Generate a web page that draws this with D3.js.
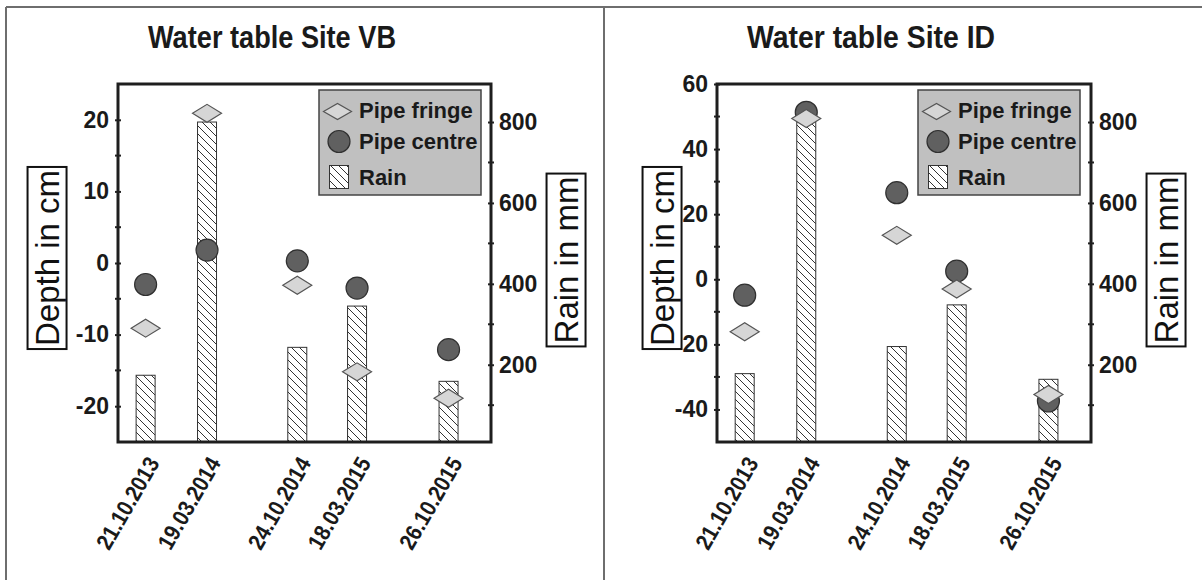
<!DOCTYPE html>
<html>
<head>
<meta charset="utf-8">
<script src="https://cdn.jsdelivr.net/npm/d3@7"></script>
<style>
  html, body { margin: 0; padding: 0; background: #fff; }
  svg { display: block; font-family: "Liberation Sans", Arial, Helvetica, sans-serif; }
</style>
</head>
<body>
<svg id="chart" width="1202" height="580"></svg>
<script>
// Sampling dates (shared by both sites)
const sampleDates = ["2013-10-21", "2014-03-19", "2014-10-24", "2015-03-18", "2015-10-26"];

// Site VB
const vbFringe = [-9.1, 20.9, -3.1, -15.2, -18.9];
const vbCentre = [-3.0, 1.8, 0.3, -3.5, -12.1];
const vbRain = [174, 800, 243, 345, 159];

// Site ID
const idFringe = [-16.1, 49.4, 13.5, -3.0, -35.4];
const idCentre = [-4.9, 51.3, 26.6, 2.5, -37.4];
const idRain = [178, 800, 245, 348, 164];

// Axis ticks
const vbDepthTicks = [-20, -10, 0, 10, 20];
const vbDepthMinor = [-25, -15, -5, 5, 15, 25];
const idDepthTicks = [-40, -20, 0, 20, 40, 60];
const idDepthMinor = [-50, -30, -10, 10, 30, 50];
const rainTicks = [200, 400, 600, 800];
const rainMinor = [100, 300, 500, 700];

const parseDate = d3.timeParse("%Y-%m-%d");
const fmtDate = d3.timeFormat("%d.%m.%Y");
const dates = sampleDates.map(parseDate);

const svg = d3.select("#chart");

// Diagonal hatch for the rain bars
const defs = svg.append("defs");
const pat = defs.append("pattern")
  .attr("id", "hatch")
  .attr("patternUnits", "userSpaceOnUse")
  .attr("width", 8).attr("height", 8);
pat.append("rect").attr("width", 8).attr("height", 8).attr("fill", "#fff");
pat.append("path")
  .attr("d", "M-2,-2L10,10M-2,6L2,10M6,-2L10,2")
  .attr("stroke", "#333").attr("stroke-width", 1);

// Panel frame lines
svg.append("line").attr("x1", 6).attr("x2", 1202).attr("y1", 7).attr("y2", 7)
  .attr("stroke", "#6e6e6e").attr("stroke-width", 2);
svg.append("line").attr("x1", 6).attr("x2", 6).attr("y1", 7).attr("y2", 580)
  .attr("stroke", "#6e6e6e").attr("stroke-width", 2);
svg.append("line").attr("x1", 604).attr("x2", 604).attr("y1", 7).attr("y2", 580)
  .attr("stroke", "#6e6e6e").attr("stroke-width", 2);

function diamondPath(hw, hh) {
  return `M${-hw},0L0,${-hh}L${hw},0L0,${hh}Z`;
}

const TICK_FONT = 23;

function styleTickText(sel, size) {
  sel.attr("font-size", size).attr("font-weight", "bold")
    .attr("fill", "#1a1a1a").attr("font-family", "Liberation Sans, Arial, sans-serif");
}

function drawPanel(cfg) {
  const left = cfg.left, right = cfg.right, top = 84, bottom = 442;
  const g = svg.append("g");

  const x = d3.scaleTime()
    .domain([parseDate("2013-08-15"), parseDate("2016-02-06")])
    .range([left, right]);
  const yDepth = d3.scaleLinear().domain(cfg.depthDomain).range([bottom, top]);
  const yRain = d3.scaleLinear().domain([9, 894]).range([bottom, top]);

  // Title
  g.append("text")
    .attr("x", left + 30).attr("y", 48)
    .attr("font-size", 32).attr("font-weight", "bold")
    .attr("textLength", 248).attr("lengthAdjust", "spacingAndGlyphs")
    .attr("fill", "#1a1a1a")
    .text(cfg.title);

  // Rain bars
  const bw = 19;
  g.selectAll("rect.bar").data(cfg.rain).join("rect")
    .attr("class", "bar")
    .attr("x", (d, i) => x(dates[i]) - bw / 2)
    .attr("width", bw)
    .attr("y", d => yRain(d))
    .attr("height", d => bottom - yRain(d))
    .attr("fill", "url(#hatch)")
    .attr("stroke", "#333").attr("stroke-width", 1);

  // Pipe centre
  g.selectAll("circle.centre").data(cfg.centre).join("circle")
    .attr("class", "centre")
    .attr("cx", (d, i) => x(dates[i]))
    .attr("cy", d => yDepth(d))
    .attr("r", 11)
    .attr("fill", "#606060").attr("stroke", "#303030").attr("stroke-width", 1.2);

  // Pipe fringe
  g.selectAll("path.fringe").data(cfg.fringe).join("path")
    .attr("class", "fringe")
    .attr("transform", (d, i) => `translate(${x(dates[i])},${yDepth(d)})`)
    .attr("d", diamondPath(14.5, 9))
    .attr("fill", "#d6d6d6").attr("stroke", "#555").attr("stroke-width", 1.2);

  // Left depth axis
  const axL = g.append("g").attr("transform", `translate(${left},0)`)
    .call(d3.axisLeft(yDepth).tickValues(cfg.depthTicks).tickSize(3).tickPadding(6)
      .tickFormat(d => String(d)));
  axL.select(".domain").remove();
  axL.selectAll(".tick line").attr("x2", 3).attr("x1", -3).attr("stroke", "#222").attr("stroke-width", 2);
  styleTickText(axL.selectAll(".tick text"), TICK_FONT);
  g.selectAll("line.minL").data(cfg.depthMinor.filter(v => v > cfg.depthDomain[0] && v < cfg.depthDomain[1])).join("line")
    .attr("x1", left - 3).attr("x2", left + 3)
    .attr("y1", d => yDepth(d)).attr("y2", d => yDepth(d))
    .attr("stroke", "#222").attr("stroke-width", 2);

  // Right rain axis
  const axR = g.append("g").attr("transform", `translate(${right},0)`)
    .call(d3.axisRight(yRain).tickValues(rainTicks).tickSize(3).tickPadding(5)
      .tickFormat(d => String(d)));
  axR.select(".domain").remove();
  axR.selectAll(".tick line").attr("x1", -3).attr("x2", 3).attr("stroke", "#222").attr("stroke-width", 2);
  styleTickText(axR.selectAll(".tick text"), TICK_FONT);
  g.selectAll("line.minR").data(rainMinor).join("line")
    .attr("x1", right - 3).attr("x2", right + 3)
    .attr("y1", d => yRain(d)).attr("y2", d => yRain(d))
    .attr("stroke", "#222").attr("stroke-width", 2);

  // Date labels (slightly condensed)
  const axB = g.append("g").attr("transform", `translate(0,${bottom})`)
    .call(d3.axisBottom(x).tickValues(dates).tickSize(0).tickFormat(fmtDate));
  axB.select(".domain").remove();
  styleTickText(axB.selectAll(".tick text"), 23);
  axB.selectAll(".tick text")
    .attr("text-anchor", "end")
    .attr("x", 0).attr("y", 0).attr("dy", 0)
    .attr("textLength", 102).attr("lengthAdjust", "spacingAndGlyphs")
    .attr("transform", "translate(14,21) rotate(-60)");

  // Plot frame
  g.append("rect")
    .attr("x", left).attr("y", top)
    .attr("width", right - left).attr("height", bottom - top)
    .attr("fill", "none").attr("stroke", "#1e1e1e").attr("stroke-width", 3);

  // Legend
  const lg = g.append("g").attr("transform", `translate(${left + 201},90)`);
  lg.append("rect").attr("width", 162).attr("height", 105)
    .attr("fill", "#c0c0c0").attr("stroke", "#444").attr("stroke-width", 1.5);
  lg.append("path").attr("transform", "translate(18.5,21.5)")
    .attr("d", diamondPath(14, 8))
    .attr("fill", "#d6d6d6").attr("stroke", "#555").attr("stroke-width", 1.2);
  lg.append("circle").attr("cx", 20).attr("cy", 51.5).attr("r", 11)
    .attr("fill", "#606060").attr("stroke", "#303030").attr("stroke-width", 1.2);
  lg.append("rect").attr("x", 10.5).attr("y", 75.5).attr("width", 19).attr("height", 23)
    .attr("fill", "url(#hatch)").attr("stroke", "#333").attr("stroke-width", 1);
  const labels = ["Pipe fringe", "Pipe centre", "Rain"];
  const baselines = [28, 59, 95];
  labels.forEach((t, i) => {
    lg.append("text").attr("x", 40).attr("y", baselines[i])
      .attr("font-size", 22).attr("font-weight", "bold").attr("fill", "#1a1a1a")
      .text(t);
  });

  // Boxed axis titles
  function boxedTitle(cx, cy, label) {
    const tg = g.append("g").attr("transform", `translate(${cx},${cy}) rotate(-90)`);
    const t = tg.append("text")
      .attr("text-anchor", "middle").attr("dy", "0.35em")
      .attr("font-size", 33).attr("fill", "#111")
      .text(label);
    const bb = t.node().getBBox();
    tg.insert("rect", "text")
      .attr("x", bb.x - 3).attr("y", bb.y - 1)
      .attr("width", bb.width + 6).attr("height", bb.height + 2)
      .attr("fill", "#fff").attr("stroke", "#111").attr("stroke-width", 2);
  }
  boxedTitle(cfg.depthTitleX, 258, "Depth in cm");
  boxedTitle(right + 75, 260, "Rain in mm");
}

drawPanel({
  title: "Water table Site VB",
  left: 118, right: 491,
  depthDomain: [-25, 25],
  depthTicks: vbDepthTicks, depthMinor: vbDepthMinor,
  fringe: vbFringe, centre: vbCentre, rain: vbRain,
  depthTitleX: 47
});

drawPanel({
  title: "Water table Site ID",
  left: 717, right: 1091,
  depthDomain: [-50, 60],
  depthTicks: idDepthTicks, depthMinor: idDepthMinor,
  fringe: idFringe, centre: idCentre, rain: idRain,
  depthTitleX: 662
});
</script>
</body>
</html>
